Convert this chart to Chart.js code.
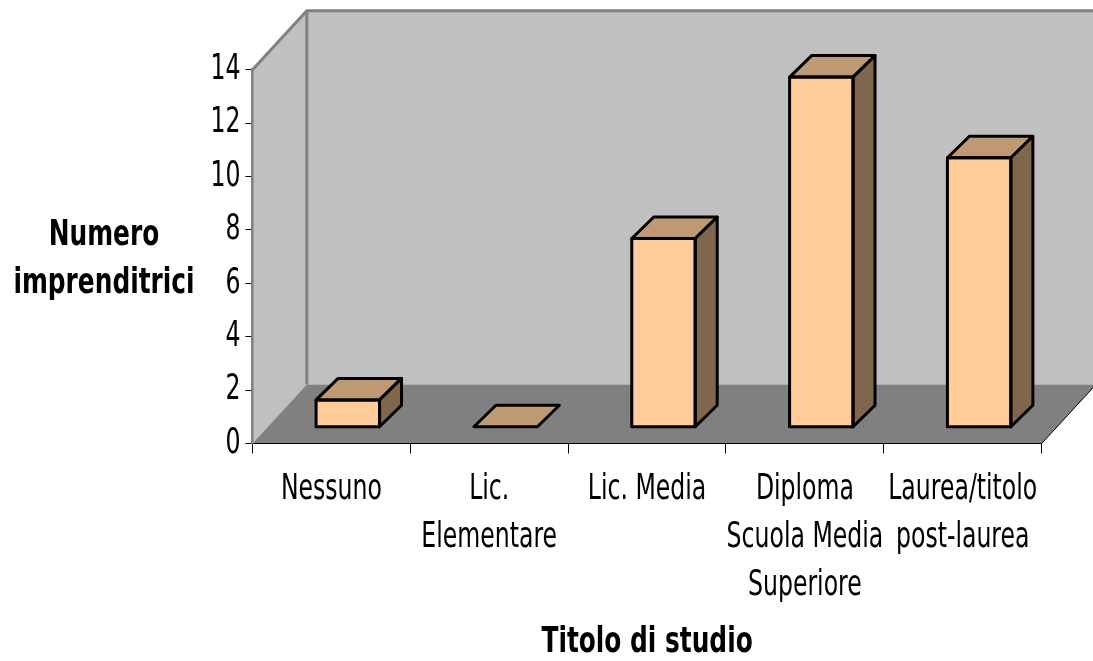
<!DOCTYPE html>
<html>
<head>
<meta charset="utf-8">
<title>Titolo di studio</title>
<script src="https://cdn.jsdelivr.net/npm/chart.js@4"></script>
<style>
  html, body { margin: 0; padding: 0; background: #ffffff; }
  canvas { display: block; }
</style>
</head>
<body>
<canvas id="chart" width="1093" height="661"></canvas>
<script>
const categories = ['Nessuno', ['Lic.', 'Elementare'], 'Lic. Media', ['Diploma', 'Scuola Media', 'Superiore'], ['Laurea/titolo', 'post-laurea']];
const values = [1, 0, 7, 13, 10];
const yTitleLines = ['Numero', 'imprenditrici'];
const xTitle = 'Titolo di studio';

const FONT = '"DejaVu Sans", sans-serif';
const WALL_DX = 54.3, WALL_DY = 59;   // depth of the 3d box
const BAR_DX = 22, BAR_DY = 21.5;     // depth of a bar
const FLOOR_SHIFT = 16.4;             // bars stand a bit into the floor

const canvas = document.getElementById('chart');
const ctx = canvas.getContext('2d');

// the original text is squeezed sideways, no installed font is this narrow
const rawFillText = ctx.fillText.bind(ctx);
ctx.fillText = (text, x, y) => {
  const squeeze = ctx.font.includes('bold') ? 0.69 : 0.655;
  ctx.save();
  ctx.translate(x, y);
  ctx.scale(squeeze, 1);
  rawFillText(text, 0, 0);
  ctx.restore();
};

const poly = (c, pts) => {
  c.beginPath();
  pts.forEach((p, i) => i ? c.lineTo(p[0], p[1]) : c.moveTo(p[0], p[1]));
  c.closePath();
};

const box3d = {
  id: 'box3d',
  beforeDraw(chart) {
    const c = chart.ctx;
    const { left, right, top, bottom } = chart.chartArea;
    const backLeft = left + WALL_DX, backRight = right + WALL_DX;
    const backTop = top - WALL_DY, backBottom = bottom - WALL_DY;

    c.save();
    c.fillStyle = '#c0c0c0';
    poly(c, [[left, top], [backLeft, backTop], [backRight, backTop], [backRight, backBottom], [backLeft, backBottom], [left, bottom]]);
    c.fill();

    c.fillStyle = '#808080';
    poly(c, [[left, bottom], [backLeft, backBottom], [backRight, backBottom], [right, bottom]]);
    c.fill();

    c.strokeStyle = '#808080';
    c.lineWidth = 3;
    c.beginPath();
    c.moveTo(left, top);
    c.lineTo(backLeft, backTop);
    c.lineTo(backRight, backTop);
    c.moveTo(backLeft, backTop);
    c.lineTo(backLeft, backBottom);
    c.stroke();

    c.strokeStyle = '#000000';
    c.lineWidth = 1;
    c.beginPath();
    c.moveTo(right, bottom);
    c.lineTo(backRight, backBottom);
    c.stroke();
    c.restore();
  },
  beforeDatasetDraw(chart) {
    chart.ctx.save();
    chart.ctx.translate(FLOOR_SHIFT, 0);
  },
  afterDatasetDraw(chart) {
    chart.ctx.restore();
  },
  afterDatasetsDraw(chart) {
    const c = chart.ctx;
    c.save();
    c.strokeStyle = '#000000';
    c.lineWidth = 3;
    c.lineJoin = 'round';
    chart.getDatasetMeta(0).data.forEach(bar => {
      const l = bar.x - bar.width / 2 + FLOOR_SHIFT;
      const r = bar.x + bar.width / 2 + FLOOR_SHIFT;
      const t = bar.y, b = bar.base;
      const topFace = [[l, t], [l + BAR_DX, t - BAR_DY], [r + BAR_DX, t - BAR_DY], [r, t]];
      const sideFace = [[r, t], [r + BAR_DX, t - BAR_DY], [r + BAR_DX, b - BAR_DY], [r, b]];

      c.fillStyle = '#bf9973';
      poly(c, topFace);
      c.fill();
      c.stroke();

      if (b - t > 0) {
        c.fillStyle = '#80664d';
        poly(c, sideFace);
        c.fill();
        c.stroke();
        c.strokeRect(l, t, r - l, b - t);
      }
    });
    c.restore();
  },
  afterDraw(chart) {
    const c = chart.ctx;
    c.save();
    c.font = 'bold 36px ' + FONT;
    c.fillStyle = '#000000';
    c.textAlign = 'center';
    c.textBaseline = 'alphabetic';
    yTitleLines.forEach((line, i) => c.fillText(line, 104, 245 + i * 48));
    c.restore();
  }
};

new Chart(ctx, {
  type: 'bar',
  data: {
    labels: categories,
    datasets: [{
      data: values,
      yAxisID: 'y2',
      backgroundColor: '#ffcc99',
      borderWidth: 0,
      barPercentage: 0.402,
      categoryPercentage: 1
    }]
  },
  plugins: [box3d],
  options: {
    responsive: false,
    animation: false,
    layout: { padding: { top: 69.7, right: 44.7, left: 0, bottom: 0 } },
    plugins: {
      legend: { display: false },
      title: { display: false },
      tooltip: { enabled: false }
    },
    scales: {
      x: {
        afterFit: s => { s.height = 217.5; },
        grid: { drawOnChartArea: false, color: '#000000', tickLength: 10, lineWidth: 1 },
        border: { color: '#000000', width: 1 },
        ticks: {
          color: '#000000',
          autoSkip: false,
          maxRotation: 0,
          minRotation: 0,
          padding: 12,
          font: { family: FONT, size: 36, lineHeight: 48 / 36 }
        },
        title: {
          display: true,
          text: xTitle,
          color: '#000000',
          font: { family: FONT, size: 36, weight: 'bold', lineHeight: 1 },
          padding: { top: 0, bottom: 0 }
        }
      },
      y: {
        min: 0,
        max: 14,
        afterFit: s => { s.width = 252.5; },
        grid: { drawOnChartArea: false, color: '#000000', tickLength: 7, lineWidth: 1 },
        border: { color: '#808080', width: 2.5 },
        ticks: {
          stepSize: 2,
          color: '#000000',
          padding: 5,
          font: { family: FONT, size: 36 }
        }
      },
      // bars stand on the middle of the floor, not on the front axis line
      y2: { display: false, min: -0.621, max: 13.275 }
    }
  }
});
</script>
</body>
</html>
